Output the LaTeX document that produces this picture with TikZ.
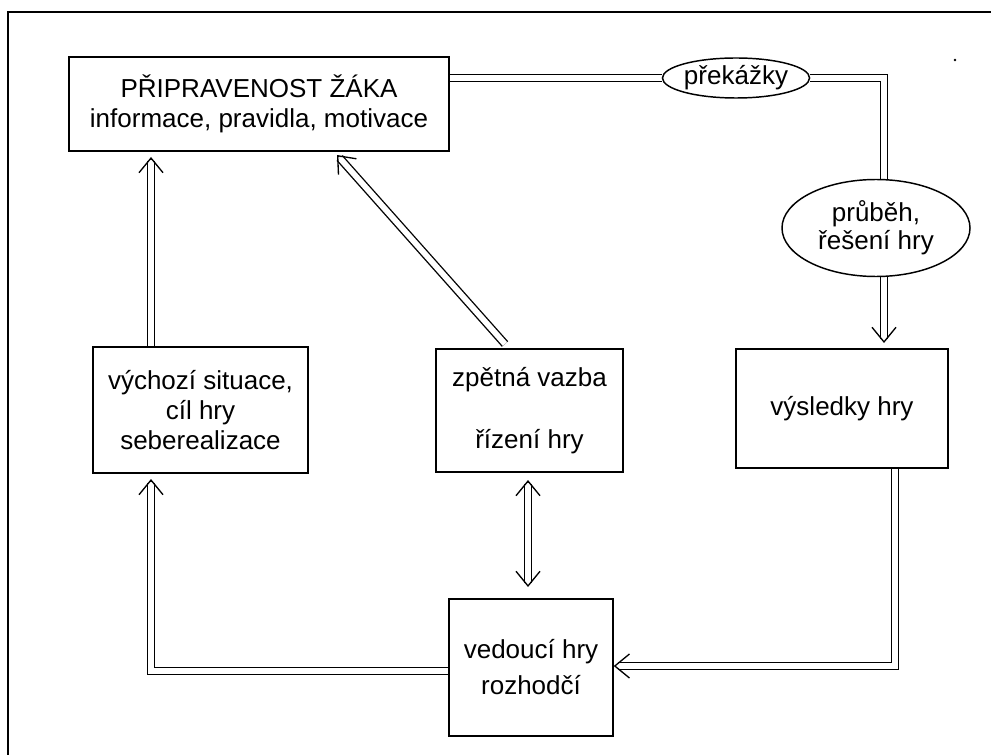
\documentclass[tikz,border=0pt]{standalone}
\usepackage{fontspec}
\setmainfont{Liberation Sans}
\usetikzlibrary{shapes.geometric,arrows.meta,calc,backgrounds}
\begin{document}
\begin{tikzpicture}[x=0.75pt,y=-0.75pt,
  box/.style={draw, line width=1.1pt, fill=white, inner sep=0pt, align=center,
    font=\fontsize{19.5}{22.5}\selectfont},
  oval/.style={box, ellipse},
  dbl/.style={draw, double, line width=1pt, double distance=4.3pt},
  head/.style={draw, line width=1pt, -{Straight Barb[length=11pt,width=18pt]}}
]
\useasboundingbox (0,0) rectangle (991,755);
% frame
\draw[line width=1.2pt] (8,755) -- (8,12) -- (991,12);
\fill (955,60) circle (1.1pt);

% nodes
\node[box, minimum width=285pt, minimum height=70.5pt] (top) at (259,104)
  {PŘIPRAVENOST ŽÁKA\\informace, pravidla, motivace};
\node[oval, minimum width=105pt, minimum height=30pt] (prek) at (736,78) {překážky};
\node[oval, minimum width=141pt, minimum height=72.75pt,
  font=\fontsize{19.5}{21}\selectfont] (prub) at (876,228) {průběh,\\řešení hry};
\node[box, minimum width=161.25pt, minimum height=94.5pt] (vych) at (200.5,410)
  {výchozí situace,\\cíl hry\\seberealizace};
\node[box, minimum width=140.25pt, minimum height=92.25pt] (zpet) at (529.5,410.5)
  {zpětná vazba\\[24pt]řízení hry};
\node[box, minimum width=159pt, minimum height=89.25pt] (vysl) at (842,408.5)
  {výsledky hry};
\node[box, minimum width=123pt, minimum height=102.75pt] (ved) at (531,667.5)
  {vedoucí hry\\[4.5pt]rozhodčí};

% helper coordinates
\coordinate (c1) at (884,78);
\coordinate (t2) at (884,343);
\coordinate (c2) at (895,666);
\coordinate (t3) at (ved.east |- c2);
\coordinate (c3) at (151,671);
\coordinate (t4) at (151,479);
\coordinate (t5) at (151,157);
\coordinate (s6) at (505,344);
\coordinate (t6) at (337,155);
\coordinate (t7a) at (528,480);
\coordinate (t7b) at (528,587);

\begin{scope}[on background layer]
  % top box -> prekazky -> prubeh
  \draw[dbl] (top.east |- prek.west) -- (prek.west);
  \draw[dbl] (prek.east) -- (c1) -- (prub.north -| c1);
  % prubeh -> vysledky
  \draw[dbl, shorten >=3pt] (prub.south -| t2) -- (t2);
  \draw[head] ($(t2)+(0,-2)$) -- (t2);
  % vysledky -> vedouci
  \draw[dbl, shorten >=3pt] (vysl.south -| c2) -- (c2) -- (t3);
  \draw[head] ($(t3)+(2,0)$) -- (t3);
  % vedouci -> vychozi
  \draw[dbl, shorten >=3pt] (ved.west |- c3) -- (c3) -- (t4);
  \draw[head] ($(t4)+(0,2)$) -- (t4);
  % vychozi -> top
  \draw[dbl, shorten >=3pt] (vych.north -| t5) -- (t5);
  \draw[head] ($(t5)+(0,2)$) -- (t5);
  % zpetna -> top
  \draw[dbl, shorten >=3pt] (s6) -- (t6);
  \draw[head] ($(t6)!2pt!(s6)$) -- (t6);
  % zpetna <-> vedouci
  \draw[dbl, shorten <=3pt, shorten >=3pt] (t7a) -- (t7b);
  \draw[head] ($(t7a)+(0,2)$) -- (t7a);
  \draw[head] ($(t7b)+(0,-2)$) -- (t7b);
\end{scope}
\end{tikzpicture}
\end{document}
